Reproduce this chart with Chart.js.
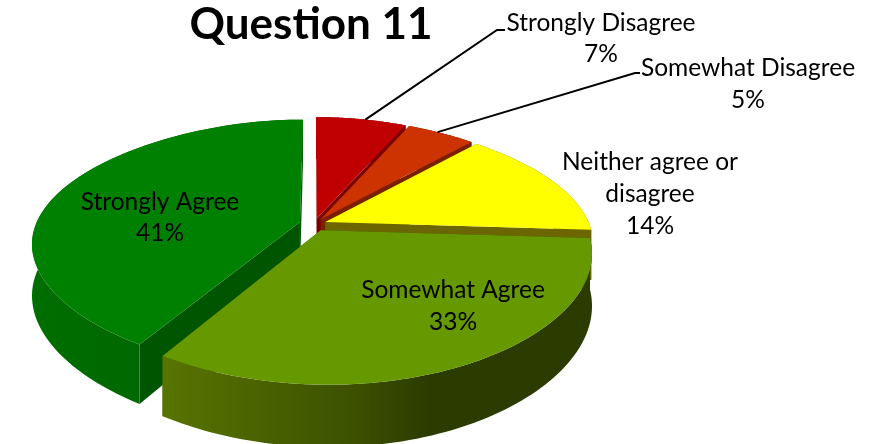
<!DOCTYPE html>
<html>
<head>
<meta charset="utf-8">
<title>Question 11</title>
<script src="https://cdn.jsdelivr.net/npm/chart.js@4"></script>
<style>
    html, body { margin: 0; padding: 0; background: #fff; overflow: hidden; }
    #pie { display: block; }
</style>
</head>
<body>
<canvas id="pie" width="879" height="444"></canvas>
<script>
const chartTitle = 'Question 11';
const categories = ['Strongly Disagree', 'Somewhat Disagree', 'Neither agree or disagree', 'Somewhat Agree', 'Strongly Agree'];
const percentages = [7, 5, 14, 33, 41];

const topColors = ['#c00000', '#cc3300', '#ffff00', '#669900', '#008000'];
const wallColors = ['#7a0000', '#7a2000', '#6b6600', '#3c5000', '#005500'];
const rimStops = [
    [[0, '#7a0000']],
    [[0, '#7a2000']],
    [[0, '#6b6600']],
    [[0, '#587400'], [0.45, '#3c5000'], [0.62, '#2c3b00'], [1, '#2c3b00']],
    [[0, '#006e00'], [1, '#006000']]
];
const sliceOffsets = [10, 10, 10, 12, 12];

// how the flat Chart.js pie gets tilted: centre, radii, perspective, thickness,
// plus two small fudges so the slice boundaries land where the picture has them
const tilt = { cx: 314, cy: 224, rx: 264, ry: 122.6, k: 0.19, depth: 50, pinch: 15, lean: 6 };

// text lines per slice, centre x / centre y
const labelLines = [
    { text: ['Strongly Disagree', '7%'], x: 601, y: [23, 54] },
    { text: ['Somewhat Disagree', '5%'], x: 748, y: [68, 100] },
    { text: ['Neither agree or', 'disagree', '14%'], x: 650, y: [162, 194, 226] },
    { text: ['Somewhat Agree', '33%'], x: 453, y: [290, 322] },
    { text: ['Strongly Agree', '41%'], x: 160, y: [202, 233] }
];
const leaderElbows = [
    [[497, 30], [505, 30]],
    [[635, 73], [640, 73]]
];
const leaderAttach = [0.55, 0.45];

function project(u, v, z) {
    const w = 1 - tilt.k * v;
    const bend = -tilt.pinch * u * v * v + (v > 0 ? tilt.lean * v * v : 0);
    return [tilt.cx + tilt.rx * u / w + bend, tilt.cy + (tilt.ry * v + tilt.depth * z) / w];
}

function arcPoint(arc, angle, radius) {
    // radius 1 is the rim, offset moves the slice out along its middle angle
    const mid = (arc.startAngle + arc.endAngle) / 2;
    const off = arc.options.offset / arc.outerRadius;
    return [radius * Math.cos(angle) + off * Math.cos(mid), radius * Math.sin(angle) + off * Math.sin(mid)];
}

function tracePoly(ctx, pts) {
    ctx.beginPath();
    pts.forEach((p, i) => i ? ctx.lineTo(p[0], p[1]) : ctx.moveTo(p[0], p[1]));
    ctx.closePath();
}

function drawSlice(ctx, arc, i) {
    const steps = 80;
    const angles = [];
    for (let s = 0; s <= steps; s++) {
        angles.push(arc.startAngle + (arc.endAngle - arc.startAngle) * s / steps);
    }
    const rimTop = angles.map(a => project(...arcPoint(arc, a, 1), 0));
    const rimBottom = angles.map(a => project(...arcPoint(arc, a, 1), 1));
    const apexTop = project(...arcPoint(arc, arc.startAngle, 0), 0);
    const apexBottom = project(...arcPoint(arc, arc.startAngle, 0), 1);

    // cut faces
    ctx.fillStyle = wallColors[i];
    tracePoly(ctx, [apexTop, rimTop[0], rimBottom[0], apexBottom]);
    ctx.fill();
    tracePoly(ctx, [apexTop, rimTop[steps], rimBottom[steps], apexBottom]);
    ctx.fill();

    // outer rim
    const xs = rimTop.map(p => p[0]);
    const grad = ctx.createLinearGradient(Math.min(...xs), 0, Math.max(...xs), 0);
    rimStops[i].forEach(s => grad.addColorStop(s[0], s[1]));
    ctx.fillStyle = grad;
    tracePoly(ctx, rimTop.concat(rimBottom.slice().reverse()));
    ctx.fill();

    // top face
    ctx.fillStyle = arc.options.backgroundColor;
    tracePoly(ctx, [apexTop].concat(rimTop));
    ctx.fill();
}

const tiltedPie = {
    id: 'tiltedPie',
    beforeDatasetsDraw(chart) {
        const ctx = chart.ctx;
        const arcs = chart.getDatasetMeta(0).data;
        // back to front, the two big slices last
        [0, 1, 2, 4, 3].forEach(i => drawSlice(ctx, arcs[i], i));
        return false;
    },
    afterDraw(chart) {
        const ctx = chart.ctx;
        const arcs = chart.getDatasetMeta(0).data;
        ctx.save();

        ctx.strokeStyle = '#000';
        ctx.lineWidth = 2;
        leaderElbows.forEach((elbow, i) => {
            const arc = arcs[i];
            const a = arc.startAngle + (arc.endAngle - arc.startAngle) * leaderAttach[i];
            const start = project(...arcPoint(arc, a, 1), 0);
            ctx.beginPath();
            ctx.moveTo(start[0], start[1]);
            elbow.forEach(p => ctx.lineTo(p[0], p[1]));
            ctx.stroke();
        });

        ctx.fillStyle = '#000';
        ctx.textAlign = 'center';
        ctx.textBaseline = 'middle';
        ctx.font = 'bold 44px Lato';
        ctx.fillText(chartTitle, 311, 25);
        ctx.font = '24.5px Lato';
        labelLines.forEach(l => {
            l.text.forEach((t, j) => ctx.fillText(t, l.x, l.y[j]));
        });
        ctx.restore();
    }
};

new Chart(document.getElementById('pie'), {
    type: 'pie',
    data: {
        labels: categories,
        datasets: [{
            data: percentages,
            backgroundColor: topColors,
            borderWidth: 0,
            offset: sliceOffsets
        }]
    },
    options: {
        responsive: false,
        animation: false,
        layout: { padding: 0 },
        plugins: {
            legend: { display: false },
            tooltip: { enabled: false }
        }
    },
    plugins: [tiltedPie]
});
</script>
</body>
</html>
